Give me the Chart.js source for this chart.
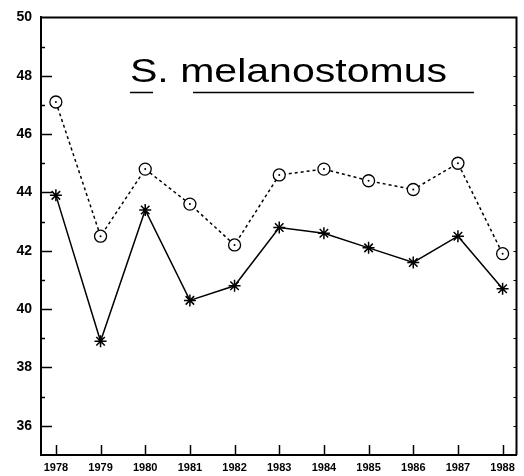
<!DOCTYPE html>
<html>
<head>
<meta charset="utf-8">
<script src="https://cdn.jsdelivr.net/npm/chart.js@4/dist/chart.umd.min.js"></script>
<style>
html,body{margin:0;padding:0;background:#fff;}
#wrap{width:524px;height:476px;position:relative;}
</style>
</head>
<body>
<div id="wrap"><canvas id="c" width="524" height="476"></canvas></div>
<script>
const years = [1978,1979,1980,1981,1982,1983,1984,1985,1986,1987,1988];
const circleSeries = [47.1,42.5,44.8,43.6,42.2,44.6,44.8,44.4,44.1,45.0,41.9];
const starSeries = [43.9,38.9,43.4,40.3,40.8,42.8,42.6,42.1,41.6,42.5,40.7];
const yTickValues = [36,38,40,42,44,46,48,50];
const titleText = "S. melanostomus";

const framePlugin = {
  id: 'frame',
  afterDatasetsDraw(chart) {
    const ctx = chart.ctx, a = chart.chartArea;
    const xs = chart.scales.x, ys = chart.scales.y;
    ctx.save();
    ctx.strokeStyle = '#000';
    ctx.lineWidth = 2;
    ctx.beginPath();
    ctx.moveTo(a.left, a.top); ctx.lineTo(a.right, a.top); ctx.lineTo(a.right, a.bottom);
    ctx.stroke();
    ctx.lineWidth = 1.5;
    for (let v = 36; v <= 49; v++) {
      const py = Math.round(ys.getPixelForValue(v)) + 0.5;
      const len = (v % 2 === 0) ? 11 : 4;
      ctx.beginPath(); ctx.moveTo(a.left, py); ctx.lineTo(a.left + len, py); ctx.stroke();
    }
    ctx.lineWidth = 1;
    for (let v = 36; v <= 49; v++) {
      const py = Math.round(ys.getPixelForValue(v)) + 0.5;
      ctx.beginPath(); ctx.moveTo(a.right, py); ctx.lineTo(a.right - 3, py); ctx.stroke();
    }
    ctx.lineWidth = 1.5;
    years.forEach(y => {
      const px = Math.round(xs.getPixelForValue(y)) + 0.5;
      ctx.beginPath(); ctx.moveTo(px, a.bottom); ctx.lineTo(px, a.bottom - 10); ctx.stroke();
    });
    const meta = chart.getDatasetMeta(0);
    ctx.fillStyle = '#000';
    meta.data.forEach(p => {
      ctx.beginPath(); ctx.arc(p.x, p.y, 1, 0, Math.PI * 2); ctx.fill();
    });
    ctx.font = '34px "Liberation Sans", Arial, sans-serif';
    ctx.textBaseline = 'alphabetic';
    const w = ctx.measureText(titleText).width;
    const sx = 317 / w;
    ctx.save();
    ctx.translate(130, 82);
    ctx.scale(sx, 1);
    ctx.fillText(titleText, 0, 0);
    ctx.restore();
    ctx.lineWidth = 1.5;
    ctx.beginPath(); ctx.moveTo(130, 92.5); ctx.lineTo(153, 92.5); ctx.stroke();
    ctx.beginPath(); ctx.moveTo(193, 92.5); ctx.lineTo(474, 92.5); ctx.stroke();
    ctx.restore();
  }
};

new Chart(document.getElementById('c'), {
  type: 'line',
  data: {
    datasets: [
      {
        label: 'circles',
        data: years.map((x, i) => ({x: x, y: circleSeries[i]})),
        borderColor: '#000',
        borderWidth: 1.5,
        borderDash: [3, 3],
        pointStyle: 'circle',
        pointRadius: 6,
        pointBorderWidth: 1.3,
        pointBackgroundColor: '#fff',
        pointBorderColor: '#000',
        tension: 0,
        fill: false
      },
      {
        label: 'stars',
        data: years.map((x, i) => ({x: x, y: starSeries[i]})),
        borderColor: '#000',
        borderWidth: 1.5,
        pointStyle: 'star',
        pointRadius: 6,
        pointBorderWidth: 1.5,
        pointBackgroundColor: '#000',
        pointBorderColor: '#000',
        tension: 0,
        fill: false
      }
    ]
  },
  options: {
    responsive: false,
    animation: false,
    devicePixelRatio: 1,
    layout: { padding: { top: 15, right: 4, left: 0, bottom: 0 } },
    plugins: { legend: { display: false }, tooltip: { enabled: false }, title: { display: false } },
    scales: {
      x: {
        type: 'linear',
        min: 1977.667,
        max: 1988.311,
        afterBuildTicks(s) { s.ticks = years.map(v => ({value: v})); },
        afterFit(s) { s.height = 21; },
        grid: { display: true, drawOnChartArea: false, drawTicks: false },
        border: { display: true, color: '#000', width: 2 },
        ticks: {
          autoSkip: false,
          maxRotation: 0,
          padding: 6,
          color: '#000',
          font: { family: '"Liberation Sans", Arial, sans-serif', size: 11, weight: 'bold' },
          callback: (v) => String(v)
        }
      },
      y: {
        type: 'linear',
        min: 35,
        max: 50,
        afterBuildTicks(s) { s.ticks = yTickValues.map(v => ({value: v})); },
        afterFit(s) { s.width = 41; },
        grid: { display: true, drawOnChartArea: false, drawTicks: false },
        border: { display: true, color: '#000', width: 2 },
        ticks: {
          padding: 9,
          color: '#000',
          font: { family: '"Liberation Sans", Arial, sans-serif', size: 14, weight: 'bold' },
          callback: (v) => String(v)
        }
      }
    }
  },
  plugins: [framePlugin]
});
</script>
</body>
</html>
